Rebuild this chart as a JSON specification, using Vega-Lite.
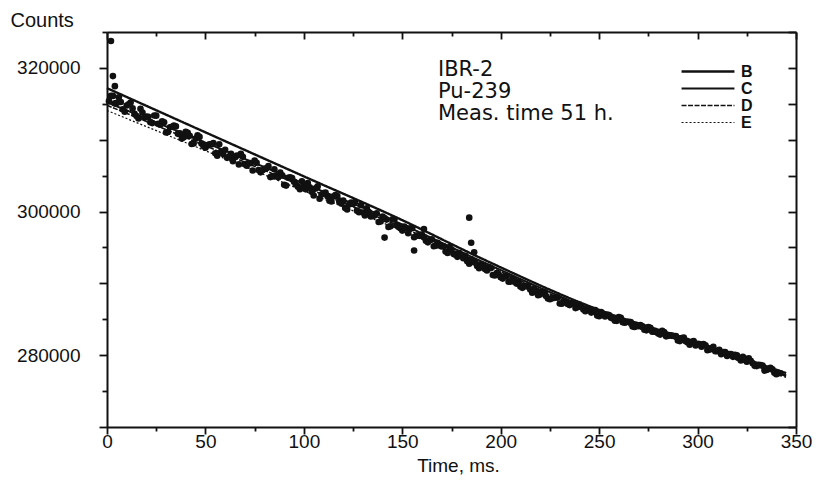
{
  "$schema": "https://vega.github.io/schema/vega-lite/v6.json",
  "width": 689,
  "height": 395,
  "autosize": {"type": "none"},
  "padding": {"left": 107, "top": 32, "right": 20, "bottom": 53},
  "background": "white",
  "config": {
    "view": {"stroke": null},
    "font": "Liberation Sans",
    "axis": {
      "domainColor": "#111",
      "domainWidth": 2,
      "tickColor": "#111",
      "tickWidth": 1.8,
      "grid": false,
      "labelColor": "#111",
      "titleColor": "#111",
      "labelFont": "Liberation Sans",
      "titleFont": "Liberation Sans"
    }
  },
  "title": {
    "text": ["IBR-2", "Pu-239", "Meas. time 51 h."],
    "anchor": "start",
    "orient": "top",
    "frame": "group",
    "baseline": "top",
    "offset": 0,
    "dx": 331,
    "dy": 114,
    "fontSize": 21,
    "lineHeight": 22,
    "fontWeight": "normal",
    "font": "DejaVu Sans",
    "color": "#111"
  },
  "datasets": {
    "points": [
      {"t": 2, "counts": 316130}, {"t": 4, "counts": 315060}, {"t": 6, "counts": 315900}, {"t": 8, "counts": 314230},
      {"t": 10, "counts": 314760}, {"t": 12, "counts": 315190}, {"t": 14, "counts": 313620}, {"t": 16, "counts": 312960},
      {"t": 18, "counts": 313790}, {"t": 20, "counts": 313220}, {"t": 22, "counts": 312450}, {"t": 24, "counts": 313380},
      {"t": 26, "counts": 312220}, {"t": 28, "counts": 312560}, {"t": 30, "counts": 311000}, {"t": 32, "counts": 311740},
      {"t": 34, "counts": 311980}, {"t": 36, "counts": 310820}, {"t": 38, "counts": 310160}, {"t": 40, "counts": 311100},
      {"t": 42, "counts": 310540}, {"t": 44, "counts": 309480}, {"t": 46, "counts": 310620}, {"t": 48, "counts": 309460},
      {"t": 50, "counts": 308900}, {"t": 52, "counts": 309360}, {"t": 54, "counts": 309520}, {"t": 56, "counts": 307780},
      {"t": 58, "counts": 308340}, {"t": 60, "counts": 308600}, {"t": 62, "counts": 307660}, {"t": 64, "counts": 307020},
      {"t": 66, "counts": 307780}, {"t": 68, "counts": 308040}, {"t": 70, "counts": 306600}, {"t": 72, "counts": 306760},
      {"t": 74, "counts": 305720}, {"t": 76, "counts": 306790}, {"t": 78, "counts": 305460}, {"t": 80, "counts": 305940},
      {"t": 82, "counts": 306320}, {"t": 84, "counts": 304890}, {"t": 86, "counts": 304970}, {"t": 88, "counts": 305440},
      {"t": 90, "counts": 303720}, {"t": 92, "counts": 304700}, {"t": 94, "counts": 304670}, {"t": 96, "counts": 303750},
      {"t": 98, "counts": 303120}, {"t": 100, "counts": 303600}, {"t": 102, "counts": 303970}, {"t": 104, "counts": 302740},
      {"t": 106, "counts": 303220}, {"t": 108, "counts": 301790}, {"t": 110, "counts": 302560}, {"t": 112, "counts": 302130},
      {"t": 114, "counts": 301400}, {"t": 116, "counts": 302280}, {"t": 118, "counts": 301350}, {"t": 120, "counts": 301520},
      {"t": 122, "counts": 300290}, {"t": 124, "counts": 301260}, {"t": 126, "counts": 301330}, {"t": 128, "counts": 299900},
      {"t": 130, "counts": 299870}, {"t": 132, "counts": 300440}, {"t": 134, "counts": 299310}, {"t": 136, "counts": 299470},
      {"t": 138, "counts": 298540}, {"t": 140, "counts": 299310}, {"t": 142, "counts": 298880}, {"t": 144, "counts": 297950},
      {"t": 146, "counts": 298910}, {"t": 148, "counts": 297880}, {"t": 150, "counts": 297350}, {"t": 152, "counts": 297710},
      {"t": 154, "counts": 297660}, {"t": 156, "counts": 296420}, {"t": 158, "counts": 296680}, {"t": 160, "counts": 296790},
      {"t": 162, "counts": 295920}, {"t": 164, "counts": 296020}, {"t": 166, "counts": 295160}, {"t": 168, "counts": 295640},
      {"t": 170, "counts": 295150}, {"t": 172, "counts": 294430}, {"t": 174, "counts": 295060}, {"t": 176, "counts": 294110},
      {"t": 178, "counts": 293690}, {"t": 180, "counts": 293950}, {"t": 182, "counts": 293820}, {"t": 184, "counts": 292730},
      {"t": 186, "counts": 292980}, {"t": 188, "counts": 292410}, {"t": 190, "counts": 292660}, {"t": 192, "counts": 292010},
      {"t": 194, "counts": 292270}, {"t": 196, "counts": 291170}, {"t": 198, "counts": 291420}, {"t": 200, "counts": 290850},
      {"t": 202, "counts": 290990}, {"t": 204, "counts": 290220}, {"t": 206, "counts": 290660}, {"t": 208, "counts": 289970},
      {"t": 210, "counts": 289580}, {"t": 212, "counts": 289710}, {"t": 214, "counts": 289620}, {"t": 216, "counts": 288710},
      {"t": 218, "counts": 288920}, {"t": 220, "counts": 288450}, {"t": 222, "counts": 288810}, {"t": 224, "counts": 287900},
      {"t": 226, "counts": 287910}, {"t": 228, "counts": 288040}, {"t": 230, "counts": 287190}, {"t": 232, "counts": 287530},
      {"t": 234, "counts": 287130}, {"t": 236, "counts": 287260}, {"t": 238, "counts": 286560}, {"t": 240, "counts": 287060},
      {"t": 242, "counts": 286350}, {"t": 244, "counts": 286400}, {"t": 246, "counts": 285930}, {"t": 248, "counts": 286280},
      {"t": 250, "counts": 285430}, {"t": 252, "counts": 285770}, {"t": 254, "counts": 285670}, {"t": 256, "counts": 285200},
      {"t": 258, "counts": 284800}, {"t": 260, "counts": 285300}, {"t": 262, "counts": 284590}, {"t": 264, "counts": 284640},
      {"t": 266, "counts": 284620}, {"t": 268, "counts": 283920}, {"t": 270, "counts": 284040}, {"t": 272, "counts": 284010},
      {"t": 274, "counts": 283460}, {"t": 276, "counts": 283820}, {"t": 278, "counts": 283270}, {"t": 280, "counts": 283030},
      {"t": 282, "counts": 283390}, {"t": 284, "counts": 282620}, {"t": 286, "counts": 282750}, {"t": 288, "counts": 282660},
      {"t": 290, "counts": 282040}, {"t": 292, "counts": 282400}, {"t": 294, "counts": 281930}, {"t": 296, "counts": 281460},
      {"t": 298, "counts": 281970}, {"t": 300, "counts": 281580}, {"t": 302, "counts": 281170}, {"t": 304, "counts": 281370},
      {"t": 306, "counts": 280750}, {"t": 308, "counts": 281170}, {"t": 310, "counts": 280550}, {"t": 312, "counts": 280140},
      {"t": 314, "counts": 280420}, {"t": 316, "counts": 280170}, {"t": 318, "counts": 279770}, {"t": 320, "counts": 279970},
      {"t": 322, "counts": 279260}, {"t": 324, "counts": 279540}, {"t": 326, "counts": 279560}, {"t": 328, "counts": 278870},
      {"t": 330, "counts": 278480}, {"t": 332, "counts": 278610}, {"t": 334, "counts": 277850}, {"t": 336, "counts": 278060},
      {"t": 338, "counts": 278040}, {"t": 340, "counts": 277350}, {"t": 342, "counts": 277490},
      {"t": 1, "counts": 315370}, {"t": 3, "counts": 316100}, {"t": 5, "counts": 315130}, {"t": 7, "counts": 315260},
      {"t": 9, "counts": 313890}, {"t": 11, "counts": 314930}, {"t": 13, "counts": 314360}, {"t": 15, "counts": 313290},
      {"t": 17, "counts": 314320}, {"t": 19, "counts": 313050}, {"t": 21, "counts": 313190}, {"t": 23, "counts": 312320},
      {"t": 25, "counts": 313350}, {"t": 27, "counts": 312090}, {"t": 29, "counts": 312430}, {"t": 31, "counts": 311070},
      {"t": 33, "counts": 311810}, {"t": 35, "counts": 311850}, {"t": 37, "counts": 310890}, {"t": 39, "counts": 310330},
      {"t": 41, "counts": 310970}, {"t": 43, "counts": 309410}, {"t": 45, "counts": 310150}, {"t": 47, "counts": 310390},
      {"t": 49, "counts": 309130}, {"t": 51, "counts": 309180}, {"t": 53, "counts": 309340}, {"t": 55, "counts": 308100},
      {"t": 57, "counts": 309360}, {"t": 59, "counts": 308020}, {"t": 61, "counts": 307480}, {"t": 63, "counts": 308040},
      {"t": 65, "counts": 307600}, {"t": 67, "counts": 306560}, {"t": 69, "counts": 307620}, {"t": 71, "counts": 306380},
      {"t": 73, "counts": 306740}, {"t": 75, "counts": 307100}, {"t": 77, "counts": 305780}, {"t": 79, "counts": 305750},
      {"t": 81, "counts": 306030}, {"t": 83, "counts": 304800}, {"t": 85, "counts": 305880}, {"t": 87, "counts": 304760},
      {"t": 89, "counts": 305030}, {"t": 91, "counts": 303610}, {"t": 93, "counts": 304780}, {"t": 95, "counts": 304160},
      {"t": 97, "counts": 303440}, {"t": 99, "counts": 304210}, {"t": 101, "counts": 303090}, {"t": 103, "counts": 303360},
      {"t": 105, "counts": 302230}, {"t": 107, "counts": 303500}, {"t": 109, "counts": 302370}, {"t": 111, "counts": 302650},
      {"t": 113, "counts": 301520}, {"t": 115, "counts": 302090}, {"t": 117, "counts": 302160}, {"t": 119, "counts": 301130},
      {"t": 121, "counts": 300510}, {"t": 123, "counts": 300980}, {"t": 125, "counts": 301050}, {"t": 127, "counts": 300120},
      {"t": 129, "counts": 300890}, {"t": 131, "counts": 299450}, {"t": 133, "counts": 299920}, {"t": 135, "counts": 299390},
      {"t": 137, "counts": 299760}, {"t": 139, "counts": 298630}, {"t": 141, "counts": 299090}, {"t": 143, "counts": 297860},
      {"t": 145, "counts": 298930}, {"t": 147, "counts": 298100}, {"t": 149, "counts": 297670}, {"t": 151, "counts": 297920},
      {"t": 153, "counts": 296970}, {"t": 155, "counts": 297680}, {"t": 157, "counts": 296590}, {"t": 159, "counts": 296620},
      {"t": 161, "counts": 296430}, {"t": 163, "counts": 295710}, {"t": 165, "counts": 296120}, {"t": 167, "counts": 295250},
      {"t": 169, "counts": 295280}, {"t": 171, "counts": 295160}, {"t": 173, "counts": 294220}, {"t": 175, "counts": 294700},
      {"t": 177, "counts": 293980}, {"t": 179, "counts": 294230}, {"t": 181, "counts": 293510}, {"t": 183, "counts": 293090},
      {"t": 185, "counts": 293340}, {"t": 187, "counts": 292920}, {"t": 189, "counts": 292120}, {"t": 191, "counts": 292450},
      {"t": 193, "counts": 291800}, {"t": 195, "counts": 292130}, {"t": 197, "counts": 291110}, {"t": 199, "counts": 291210},
      {"t": 201, "counts": 290660}, {"t": 203, "counts": 291020}, {"t": 205, "counts": 290250}, {"t": 207, "counts": 290240},
      {"t": 209, "counts": 290220}, {"t": 211, "counts": 289380}, {"t": 213, "counts": 289590}, {"t": 215, "counts": 289130},
      {"t": 217, "counts": 289190}, {"t": 219, "counts": 288350}, {"t": 221, "counts": 288780}, {"t": 223, "counts": 288240},
      {"t": 225, "counts": 287780}, {"t": 227, "counts": 287970}, {"t": 229, "counts": 288020}, {"t": 231, "counts": 287170},
      {"t": 233, "counts": 287370}, {"t": 235, "counts": 286970}, {"t": 237, "counts": 287170}, {"t": 239, "counts": 286690},
      {"t": 241, "counts": 286740}, {"t": 243, "counts": 286120}, {"t": 245, "counts": 286470}, {"t": 247, "counts": 286140},
      {"t": 249, "counts": 285510}, {"t": 251, "counts": 286010}, {"t": 253, "counts": 285390}, {"t": 255, "counts": 285590},
      {"t": 257, "counts": 285110}, {"t": 259, "counts": 284780}, {"t": 261, "counts": 285210}, {"t": 263, "counts": 284510},
      {"t": 265, "counts": 284630}, {"t": 267, "counts": 284000}, {"t": 269, "counts": 284200}, {"t": 271, "counts": 284180},
      {"t": 273, "counts": 283550}, {"t": 275, "counts": 283900}, {"t": 277, "counts": 283280}, {"t": 279, "counts": 283260},
      {"t": 281, "counts": 282870}, {"t": 283, "counts": 283230}, {"t": 285, "counts": 282690}, {"t": 287, "counts": 282740},
      {"t": 289, "counts": 282650}, {"t": 291, "counts": 281960}, {"t": 293, "counts": 282460}, {"t": 295, "counts": 281770},
      {"t": 297, "counts": 281830}, {"t": 299, "counts": 281360}, {"t": 301, "counts": 281560}, {"t": 303, "counts": 281540},
      {"t": 305, "counts": 280690}, {"t": 307, "counts": 280960}, {"t": 309, "counts": 280560}, {"t": 311, "counts": 280760},
      {"t": 313, "counts": 280430}, {"t": 315, "counts": 279880}, {"t": 317, "counts": 280150}, {"t": 319, "counts": 280050},
      {"t": 321, "counts": 279580}, {"t": 323, "counts": 279780}, {"t": 325, "counts": 279080}, {"t": 327, "counts": 279210},
      {"t": 329, "counts": 278520}, {"t": 331, "counts": 278660}, {"t": 333, "counts": 278570}, {"t": 335, "counts": 277950},
      {"t": 337, "counts": 278240}, {"t": 339, "counts": 277550}, {"t": 341, "counts": 277530},
      {"t": 2, "counts": 323740}, {"t": 3, "counts": 318860}, {"t": 4, "counts": 317460},
      {"t": 141, "counts": 296370}, {"t": 156, "counts": 294580}, {"t": 161, "counts": 297570},
      {"t": 184, "counts": 299150}, {"t": 185, "counts": 295660}, {"t": 186.5, "counts": 294340}
    ],
    "fits": [
      {"model": "B", "t": 0, "counts": 317180}, {"model": "B", "t": 50, "counts": 311030}, {"model": "B", "t": 100, "counts": 304900},
      {"model": "B", "t": 150, "counts": 298800}, {"model": "B", "t": 190, "counts": 293500}, {"model": "B", "t": 250, "counts": 286300},
      {"model": "B", "t": 300, "counts": 281800}, {"model": "B", "t": 345, "counts": 277500},
      {"model": "C", "t": 0, "counts": 315200}, {"model": "C", "t": 50, "counts": 309600}, {"model": "C", "t": 100, "counts": 303900},
      {"model": "C", "t": 150, "counts": 298200}, {"model": "C", "t": 190, "counts": 293100}, {"model": "C", "t": 250, "counts": 286000},
      {"model": "C", "t": 300, "counts": 281550}, {"model": "C", "t": 345, "counts": 277200},
      {"model": "D", "t": 0, "counts": 314800}, {"model": "D", "t": 50, "counts": 309150}, {"model": "D", "t": 100, "counts": 303450},
      {"model": "D", "t": 150, "counts": 297800}, {"model": "D", "t": 190, "counts": 292850}, {"model": "D", "t": 250, "counts": 285750},
      {"model": "D", "t": 300, "counts": 281400}, {"model": "D", "t": 345, "counts": 277050},
      {"model": "E", "t": 0, "counts": 314070}, {"model": "E", "t": 50, "counts": 308470}, {"model": "E", "t": 100, "counts": 302870},
      {"model": "E", "t": 150, "counts": 297300}, {"model": "E", "t": 190, "counts": 292600}, {"model": "E", "t": 250, "counts": 285500},
      {"model": "E", "t": 300, "counts": 281200}, {"model": "E", "t": 345, "counts": 276900}
    ]
  },
  "layer": [
    {
      "data": {"name": "points"},
      "mark": {"type": "circle", "size": 44, "color": "#111", "opacity": 1},
      "encoding": {
        "x": {
          "field": "t", "type": "quantitative",
          "scale": {"domain": [0, 350], "nice": false, "zero": false},
          "axis": {
            "orient": "bottom",
            "values": [0, 25, 50, 75, 100, 125, 150, 175, 200, 225, 250, 275, 300, 325, 350],
            "labelExpr": "datum.value % 50 === 0 ? datum.label : ''",
            "tickSize": {"condition": {"test": "datum.value % 50 === 0", "value": 7}, "value": 4},
            "labelFontSize": 19,
            "labelPadding": -2,
            "labelFlush": false,
            "title": "Time, ms.",
            "titleX": 351,
            "titleFontSize": 19,
            "titleFontWeight": "normal",
            "titlePadding": 5
          }
        },
        "y": {
          "field": "counts", "type": "quantitative",
          "scale": {"domain": [270000, 325000], "nice": false, "zero": false},
          "axis": {
            "orient": "left",
            "values": [270000, 275000, 280000, 285000, 290000, 295000, 300000, 305000, 310000, 315000, 320000, 325000],
            "format": "d",
            "labelExpr": "(datum.value == 280000 || datum.value == 300000 || datum.value == 320000) ? datum.label : ''",
            "tickSize": {"condition": {"test": "datum.value % 10000 === 0", "value": 8}, "value": 5},
            "labelFontSize": 19,
            "labelPadding": 19,
            "labelFlush": false,
            "title": "Counts",
            "titleAngle": 0,
            "titleAlign": "left",
            "titleBaseline": "middle",
            "titleX": -97,
            "titleY": -12,
            "titleFontSize": 20,
            "titleFontWeight": "normal"
          }
        }
      }
    },
    {
      "data": {"name": "fits"},
      "mark": {"type": "line", "color": "#111", "interpolate": "monotone"},
      "encoding": {
        "x": {
          "field": "t", "type": "quantitative",
          "axis": {
            "orient": "top",
            "values": [0, 25, 50, 75, 100, 125, 150, 175, 200, 225, 250, 275, 300, 325, 350],
            "labels": false,
            "title": null,
            "tickSize": {"condition": {"test": "datum.value % 50 === 0", "value": -7}, "value": -4}
          }
        },
        "y": {
          "field": "counts", "type": "quantitative",
          "axis": {
            "orient": "right",
            "values": [270000, 275000, 280000, 285000, 290000, 295000, 300000, 305000, 310000, 315000, 320000, 325000],
            "labels": false,
            "title": null,
            "tickSize": -8
          }
        },
        "strokeDash": {
          "field": "model", "type": "nominal",
          "scale": {"domain": ["B", "C", "D", "E"], "range": [[1, 0], [1, 0], [5, 1.5], [2, 2]]},
          "legend": {
            "title": null,
            "orient": "none",
            "legendX": 573,
            "legendY": 31,
            "symbolType": "stroke",
            "symbolSize": 2800,
            "symbolStrokeColor": "#111",
            "clipHeight": 17,
            "padding": 0,
            "rowPadding": 0,
            "labelOffset": 5,
            "labelFontSize": 16,
            "labelFontWeight": "bold",
            "labelColor": "#111",
            "labelFont": "Liberation Sans"
          }
        },
        "strokeWidth": {
          "field": "model", "type": "nominal",
          "scale": {"domain": ["B", "C", "D", "E"], "range": [2.4, 1.2]},
          "legend": {
            "title": null,
            "orient": "none",
            "legendX": 573,
            "legendY": 31,
            "symbolType": "stroke",
            "symbolSize": 2800,
            "symbolStrokeColor": "#111",
            "clipHeight": 17,
            "padding": 0,
            "rowPadding": 0,
            "labelOffset": 5,
            "labelFontSize": 16,
            "labelFontWeight": "bold",
            "labelColor": "#111",
            "labelFont": "Liberation Sans"
          }
        }
      }
    }
  ],
  "resolve": {"axis": {"x": "independent", "y": "independent"}}
}
